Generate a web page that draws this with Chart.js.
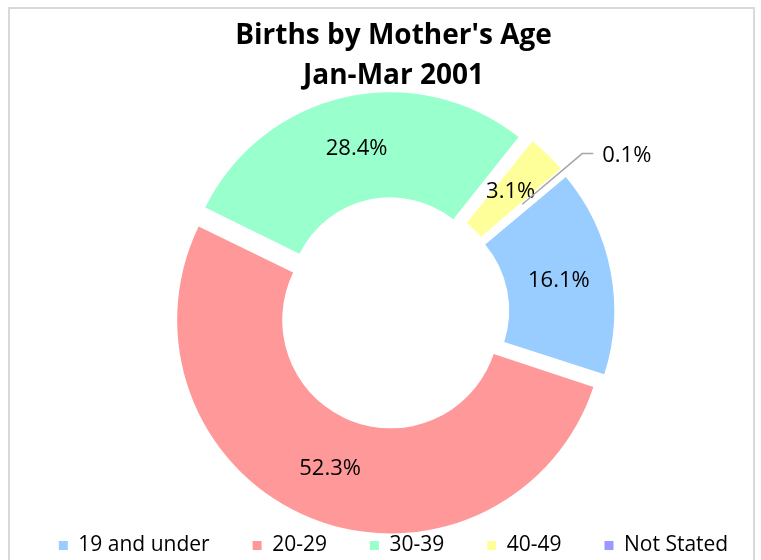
<!DOCTYPE html>
<html>
<head>
<meta charset="utf-8">
<script src="https://cdn.jsdelivr.net/npm/chart.js@4/dist/chart.umd.min.js"></script>
<style>
    html, body { margin: 0; padding: 0; background: #fff; overflow: hidden; width: 761px; height: 560px; }
    #frame {
        position: absolute; left: 8px; top: 7px; width: 747px; height: 620px;
        border: 2px solid #d9d9d9; box-sizing: border-box;
    }
    #wrap { position: absolute; left: 0; top: 0; width: 787px; height: 566px; }
</style>
</head>
<body>
<div id="frame"></div>
<div id="wrap"><canvas id="birthsChart"></canvas></div>
<script>
const categories = ['19 and under', '20-29', '30-39', '40-49', 'Not Stated'];
const shares = [16.1, 52.3, 28.4, 3.1, 0.1];
const sliceColors = ['#99CCFF', '#FF9999', '#99FFCC', '#FFFF99', '#9999FF'];
const titleLines = ["Births by Mother's Age", 'Jan-Mar 2001'];

// every slice pulled out by the same number of pixels
const EXPLODE = 15;
const FONT = "'Open Sans', sans-serif";

// ArcElement moves a slice by offset/4 * (2 - sin(angle)), so undo that
const total = shares.reduce((a, b) => a + b, 0);
const sliceOffsets = shares.map(v => {
    const angle = v / total * Math.PI * 2;
    return EXPLODE * 4 / (2 - Math.sin(Math.min(Math.PI, angle)));
});

// percentage labels, small slices get a leader line
const sliceLabels = {
    id: 'sliceLabels',
    afterDatasetsDraw(chart) {
        const ctx = chart.ctx;
        const meta = chart.getDatasetMeta(0);
        ctx.save();
        ctx.font = '22px ' + FONT;
        ctx.fillStyle = '#000';
        meta.data.forEach((arc, i) => {
            const p = arc.getProps(['x', 'y', 'startAngle', 'endAngle', 'innerRadius', 'outerRadius'], true);
            const mid = (p.startAngle + p.endAngle) / 2;
            const cx = p.x + Math.cos(mid) * EXPLODE;
            const cy = p.y + Math.sin(mid) * EXPLODE;
            const r = (p.innerRadius + p.outerRadius) / 2;
            const lx = cx + Math.cos(mid) * r;
            const ly = cy + Math.sin(mid) * r;
            const text = shares[i].toFixed(1) + '%';
            if (shares[i] < 1) {
                const ex = cx + Math.cos(mid) * (p.outerRadius + 26);
                const ey = cy + Math.sin(mid) * (p.outerRadius + 26);
                ctx.strokeStyle = '#A6A6A6';
                ctx.lineWidth = 1.5;
                ctx.beginPath();
                ctx.moveTo(lx, ly);
                ctx.lineTo(ex, ey);
                ctx.lineTo(ex + 11, ey);
                ctx.stroke();
                ctx.textAlign = 'left';
                ctx.textBaseline = 'middle';
                ctx.fillText(text, ex + 20, ey + 2);
            } else {
                ctx.textAlign = 'center';
                ctx.textBaseline = 'middle';
                ctx.fillText(text, lx, ly);
            }
        });
        ctx.restore();
    }
};

new Chart(document.getElementById('birthsChart'), {
    type: 'doughnut',
    data: {
        labels: categories,
        datasets: [{
            data: shares,
            backgroundColor: sliceColors,
            borderWidth: 0,
            offset: sliceOffsets,
            hoverOffset: 0
        }]
    },
    options: {
        responsive: true,
        maintainAspectRatio: false,
        animation: false,
        rotation: 50,
        cutout: '49%',
        radius: 206,
        layout: { padding: 0 },
        plugins: {
            title: {
                display: true,
                text: titleLines,
                color: '#000',
                font: { family: FONT, size: 28, weight: 'bold', lineHeight: 1.41 },
                padding: { top: 16.5, bottom: 38.5 }
            },
            legend: {
                position: 'bottom',
                labels: {
                    color: '#000',
                    font: { family: FONT, size: 21 },
                    boxWidth: 9,
                    boxHeight: 9,
                    padding: 43
                }
            },
            tooltip: { enabled: false }
        }
    },
    plugins: [sliceLabels]
});
</script>
</body>
</html>
